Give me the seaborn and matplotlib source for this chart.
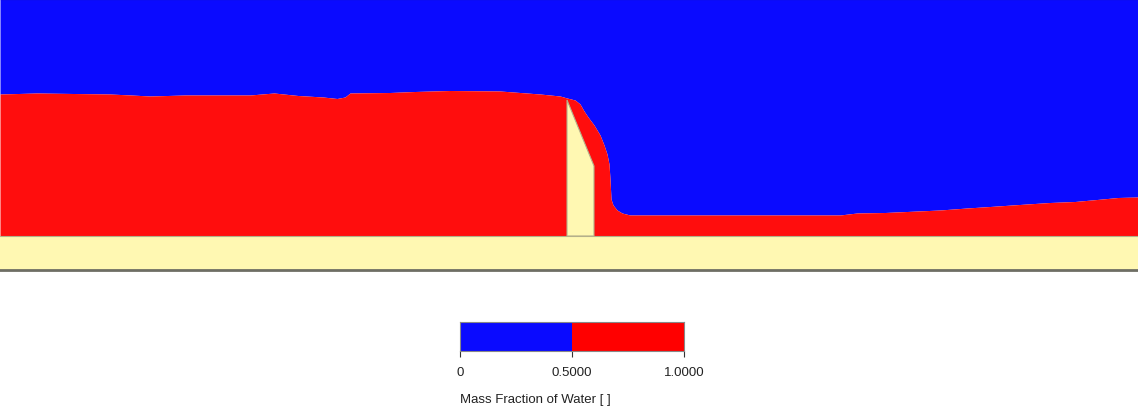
import numpy as np
import matplotlib
matplotlib.use("Agg")
import matplotlib.pyplot as plt
from matplotlib.colors import ListedColormap
import seaborn as sns

# free surface (x along channel, height above channel bottom)
surf_x = [0, 37, 110, 131, 150, 185, 250, 274, 298, 323, 337, 345, 350, 390, 415, 450,
          500, 540, 560, 567, 575, 580, 584, 588, 594, 600, 604, 607, 609, 610, 611,
          613, 617, 622, 630, 700, 840, 857, 885, 940, 967, 990, 1027, 1050, 1075,
          1097, 1118, 1138]
surf_h = [175, 176, 175, 174, 173, 174, 174, 176, 173.5, 172, 170.5, 172, 176, 176.5,
          177.5, 178.5, 178, 175, 173, 171, 169, 165, 158, 152, 144, 134, 124, 115, 105,
          90, 70, 64, 59, 56, 54, 54, 54, 56, 56.5, 59, 61, 62.5, 65, 66.5, 67.5, 69.5,
          71.5, 72]

# channel geometry
floor_h = 33
top_h = 270
weir_x = [567, 567, 594, 594]
weir_h = [33, 169, 103, 33]

# colour legend
levels = [0, 0.5, 1.0]
level_labels = ["0", "0.5000", "1.0000"]
legend_title = "Mass Fraction of Water [ ]"

blue = "#0A0AFF"
red = "#FF0D0D"
solid = "#FFF8B2"
edge = "#B4B08A"

sns.set_style("white")
plt.rcParams["font.family"] = ["Liberation Sans", "DejaVu Sans"]

fig = plt.figure(figsize=(11.38, 4.10), dpi=100, facecolor="white")

# contour domain
ax = fig.add_axes([0, 139 / 410, 1, 271 / 410])
x = np.array(surf_x)
h = np.array(surf_h)
ax.fill_between(x, h, top_h, color=blue, lw=0)
ax.fill_between(x, floor_h, h, color=red, lw=0)
ax.fill_between([0, 1138], -1, floor_h, color=solid, lw=0)
ax.plot([0, 1138], [floor_h, floor_h], color=edge, lw=0.8)
ax.fill(weir_x, weir_h, facecolor=solid, edgecolor=edge, lw=0.8)
ax.set_xlim(0, 1138)
ax.set_ylim(-1, top_h)
ax.set_xticks([])
ax.set_yticks([])
for side in ["left", "right"]:
    ax.spines[side].set_visible(False)
ax.spines["top"].set_color("#303040")
ax.spines["top"].set_linewidth(1.5)
ax.spines["bottom"].set_color("#6E6E64")
ax.spines["bottom"].set_linewidth(2)

# legend bar
cax = fig.add_axes([460 / 1138, (410 - 352) / 410, 224 / 1138, 29 / 410])
cells = np.array([[0.25, 0.75]])
sns.heatmap(cells, cmap=ListedColormap([blue, "#FF0000"]), vmin=0, vmax=1,
            cbar=False, ax=cax, xticklabels=False, yticklabels=False)
cax.set_xticks(np.array(levels) * 2)
cax.set_xticklabels(level_labels, fontsize=9.5, color="#222222")
cax.set_yticks([])
cax.tick_params(axis="x", bottom=True, length=4, width=0.8, color="#333333", pad=7)
for s in cax.spines.values():
    s.set_visible(True)
    s.set_color("#888888")
    s.set_linewidth(0.8)

fig.text(460 / 1138, 1 - 400 / 410, legend_title, ha="left", va="center",
         fontsize=9.5, color="#222222")

fig.savefig("out.png", dpi=100)
